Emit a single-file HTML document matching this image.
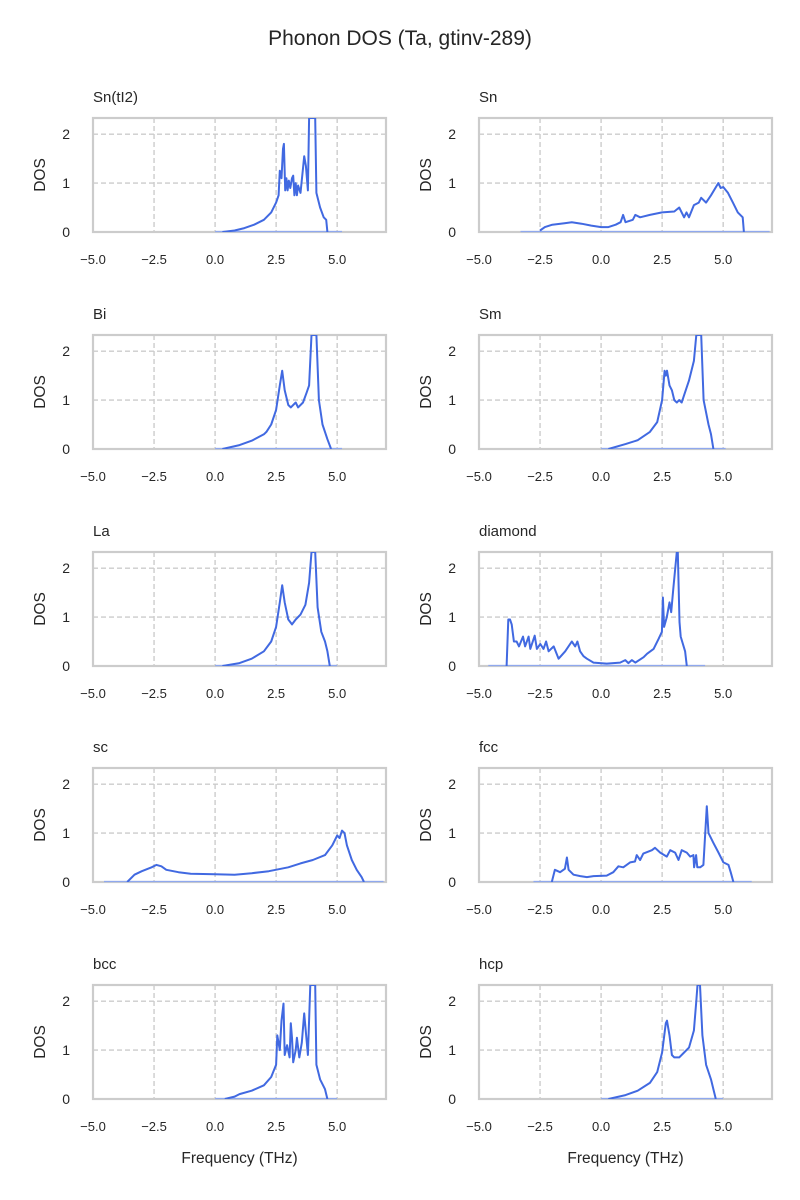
<!DOCTYPE html>
<html><head><meta charset="utf-8"><style>
body{margin:0;background:#fff;}
svg{display:block;font-family:"Liberation Sans","DejaVu Sans",sans-serif;}
</style></head><body>
<svg id="c" width="800" height="1200" viewBox="0 0 800 1200">
<text x="400" y="45" text-anchor="middle" font-size="21" fill="#262626">Phonon DOS (Ta, gtinv-289)</text>
</svg>
<script>
const names = ["Sn(tI2)","Sn","Bi","Sm","La","diamond","sc","fcc","bcc","hcp"];
const baseRanges = [[0,5.2],[-3.3,6.9],[0,5.2],[0,5.1],[0,5.0],[-4.62,4.26],[-4.55,6.9],[-2.77,6.17],[0,5.0],[0,5.0]];
const xTicks = [-5,-2.5,0,2.5,5];
const xTickLabels = ["\u22125.0","\u22122.5","0.0","2.5","5.0"];
const yTicks = [0,1,2];
const freqSnTI2 = [0.3,0.8,1.2,1.6,2.0,2.3,2.5,2.6,2.65,2.72,2.78,2.82,2.87,2.92,2.97,3.02,3.08,3.15,3.2,3.25,3.3,3.35,3.4,3.5,3.6,3.65,3.72,3.8,3.85,4.1,4.15,4.3,4.45,4.55,4.6];
const dosSnTI2 = [0,0.03,0.08,0.15,0.25,0.4,0.6,0.75,1.25,1.1,1.7,1.8,0.85,1.1,0.85,1.05,0.9,1.1,1.15,0.75,1.0,0.75,0.95,0.8,1.3,1.55,1.35,0.85,2.33,2.33,0.8,0.5,0.3,0.25,0];
const freqSn = [-2.5,-2.3,-2,-1.5,-1.2,-0.8,-0.4,0,0.3,0.6,0.8,0.9,1.0,1.3,1.4,1.6,2,2.5,3.0,3.2,3.4,3.5,3.6,3.8,4.0,4.1,4.3,4.5,4.8,4.9,5.0,5.2,5.4,5.6,5.8,5.85];
const dosSn = [0.03,0.1,0.15,0.18,0.2,0.17,0.13,0.1,0.1,0.15,0.2,0.35,0.2,0.25,0.35,0.3,0.35,0.4,0.42,0.5,0.3,0.4,0.3,0.55,0.6,0.7,0.6,0.75,1.0,0.9,0.92,0.8,0.6,0.4,0.3,0];
const freqBi = [0.3,1,1.5,2,2.1,2.3,2.5,2.65,2.75,2.85,3.0,3.1,3.3,3.4,3.6,3.75,3.85,3.95,4.15,4.25,4.4,4.6,4.75];
const dosBi = [0,0.08,0.17,0.3,0.35,0.5,0.8,1.3,1.6,1.2,0.9,0.85,0.95,0.85,0.95,1.15,1.3,2.33,2.33,1.0,0.5,0.2,0];
const freqSm = [0.3,1,1.5,2,2.3,2.5,2.6,2.65,2.7,2.8,2.9,3.0,3.1,3.2,3.3,3.4,3.6,3.8,3.9,4.1,4.2,4.4,4.5,4.6];
const dosSm = [0,0.1,0.18,0.35,0.55,1.0,1.6,1.5,1.6,1.3,1.2,1.0,0.95,1.0,0.95,1.1,1.4,1.8,2.33,2.33,1.0,0.5,0.3,0];
const freqLa = [0.3,1,1.5,2,2.3,2.5,2.65,2.75,2.85,3,3.15,3.3,3.5,3.7,3.85,3.95,4.1,4.2,4.35,4.5,4.6,4.7];
const dosLa = [0,0.06,0.15,0.3,0.5,0.8,1.3,1.65,1.3,0.95,0.85,0.95,1.05,1.25,1.7,2.33,2.33,1.2,0.7,0.5,0.3,0];
const freqDiamond = [-3.87,-3.8,-3.73,-3.66,-3.57,-3.46,-3.36,-3.2,-3.11,-2.97,-2.9,-2.72,-2.63,-2.49,-2.36,-2.25,-2.15,-1.94,-1.74,-1.47,-1.2,-1.06,-0.97,-0.86,-0.72,-0.58,-0.31,0.23,0.78,0.99,1.12,1.26,1.4,1.74,1.88,2.15,2.35,2.49,2.53,2.58,2.69,2.8,2.87,2.96,3.1,3.14,3.21,3.26,3.44,3.51];
const dosDiamond = [0,0.95,0.95,0.85,0.5,0.5,0.4,0.6,0.4,0.6,0.35,0.62,0.35,0.45,0.35,0.5,0.3,0.4,0.15,0.3,0.5,0.4,0.5,0.3,0.2,0.15,0.07,0.05,0.07,0.12,0.06,0.12,0.07,0.18,0.25,0.35,0.55,0.7,1.4,0.8,1.0,1.3,1.1,1.6,2.33,2.33,0.9,0.6,0.3,0];
const freqSc = [-3.6,-3.3,-3,-2.6,-2.4,-2.2,-2,-1.5,-1,0,0.8,1.5,2.2,3,3.5,4,4.5,4.8,5.0,5.1,5.2,5.3,5.4,5.6,5.8,6.0,6.1];
const dosSc = [0,0.15,0.22,0.3,0.35,0.32,0.25,0.2,0.17,0.16,0.15,0.18,0.22,0.3,0.38,0.45,0.55,0.75,0.95,0.9,1.05,1.0,0.75,0.45,0.25,0.1,0];
const freqFcc = [-2.02,-1.89,-1.68,-1.48,-1.4,-1.33,-1.13,-0.85,-0.58,-0.31,0.23,0.5,0.71,0.91,1.19,1.39,1.46,1.6,1.73,2.08,2.21,2.42,2.69,2.83,3.03,3.17,3.3,3.51,3.65,3.78,3.81,3.89,3.94,4.06,4.19,4.33,4.4,4.6,4.81,5.01,5.22,5.31,5.42];
const dosFcc = [0,0.25,0.2,0.27,0.5,0.25,0.15,0.12,0.1,0.12,0.13,0.2,0.32,0.3,0.4,0.42,0.55,0.45,0.58,0.65,0.7,0.6,0.52,0.65,0.6,0.45,0.65,0.6,0.52,0.55,0.3,0.55,0.3,0.3,0.35,1.55,1.0,0.8,0.6,0.4,0.35,0.2,0];
const freqBcc = [0.4,0.8,1.0,1.5,2,2.3,2.5,2.55,2.65,2.72,2.8,2.85,2.95,3.05,3.1,3.15,3.2,3.3,3.35,3.45,3.55,3.65,3.75,3.8,3.9,4.1,4.15,4.3,4.5,4.6];
const dosBcc = [0,0.05,0.1,0.17,0.28,0.45,0.7,1.3,1.0,1.6,1.95,0.9,1.1,0.85,1.55,1.25,0.75,1.0,1.25,0.85,1.15,1.75,1.2,0.9,2.33,2.33,0.7,0.4,0.2,0];
const freqHcp = [0.3,1,1.5,2,2.3,2.5,2.65,2.7,2.8,2.9,3.0,3.2,3.4,3.6,3.8,3.9,3.95,4.05,4.15,4.3,4.5,4.6,4.7];
const dosHcp = [0,0.08,0.17,0.33,0.55,0.95,1.55,1.6,1.3,0.9,0.85,0.85,0.95,1.05,1.4,2.0,2.33,2.33,1.3,0.7,0.4,0.2,0];
const freqs = [freqSnTI2,freqSn,freqBi,freqSm,freqLa,freqDiamond,freqSc,freqFcc,freqBcc,freqHcp];
const doses = [dosSnTI2,dosSn,dosBi,dosSm,dosLa,dosDiamond,dosSc,dosFcc,dosBcc,dosHcp];

const NS="http://www.w3.org/2000/svg";
const svg=document.getElementById('c');
function mk(tag,attrs,parent){const e=document.createElementNS(NS,tag);for(const k in attrs)e.setAttribute(k,attrs[k]);(parent||svg).appendChild(e);return e;}
const XMIN=-5,XMAX=7,YMIN=0,YMAX=2.33,W=293,H=114;
const lefts=[93,479], tops=[118,335,552,768,985];
function slug(s){return s.toLowerCase().replace(/[^a-z0-9]+/g,'-').replace(/-$/,'');}
names.forEach((nm,i)=>{
  const col=i%2,row=Math.floor(i/2);
  const L=lefts[col],T=tops[row];
  const sx=v=>L+(v-XMIN)/(XMAX-XMIN)*W;
  const sy=v=>T+H-(v-YMIN)/(YMAX-YMIN)*H;
  const g=mk('g',{});
  
  
  const t=mk('text',{x:L,y:T-16,'font-size':15,fill:'#262626'},g);t.textContent=nm;
  
  
  xTicks.forEach((v,k)=>{
    const x=sx(v);
    const gl=mk('line',{x1:x,x2:x,y1:T,y2:T+H,stroke:'#cccccc','stroke-width':1.4,'stroke-dasharray':'5,3'},g);
    
    
    const tl=mk('text',{x:x,y:T+H+32,'font-size':13,'text-anchor':'middle',fill:'#262626'},g);tl.textContent=xTickLabels[k];
    
    
  });
  yTicks.forEach(v=>{
    const y=sy(v);
    if(v>0){const gl=mk('line',{x1:L,x2:L+W,y1:y,y2:y,stroke:'#cccccc','stroke-width':1.4,'stroke-dasharray':'5,3'},g);
    
    }
    const tl=mk('text',{x:L-23,y:y+5,'font-size':14,'text-anchor':'end',fill:'#262626'},g);tl.textContent=v;
    
    
  });
  const yl=mk('text',{x:0,y:0,'font-size':15.5,'text-anchor':'middle',fill:'#262626',transform:`translate(${L-48},${T+H/2}) rotate(-90)`},g);yl.textContent='DOS';
  
  
  const fr=mk('rect',{x:L,y:T,width:W,height:H,fill:'none',stroke:'#cccccc','stroke-width':2.2},g);
  
  
  const br=baseRanges[i];
  const bl=mk('line',{x1:sx(br[0]),x2:sx(br[1]),y1:sy(0)-0.5,y2:sy(0)-0.5,stroke:'#8fa8ee','stroke-width':1.2},g);
  
  
  const cp=mk('clipPath',{id:'cp'+i},g);mk('rect',{x:L,y:T,width:W,height:H},cp);
  const d=freqs[i].map((f,k)=>(k?'L':'M')+sx(f).toFixed(1)+','+sy(doses[i][k]).toFixed(1)).join(' ');
  const p=mk('path',{d:d,fill:'none',stroke:'#4169e1','stroke-width':2,'stroke-linejoin':'round','clip-path':`url(#cp${i})`},g);
  
  
  if(row===4){
    const xl=mk('text',{x:L+W/2,y:T+H+64,'font-size':15.5,'text-anchor':'middle',fill:'#262626'},g);xl.textContent='Frequency (THz)';
    
    
  }
});
</script>
</body></html>
